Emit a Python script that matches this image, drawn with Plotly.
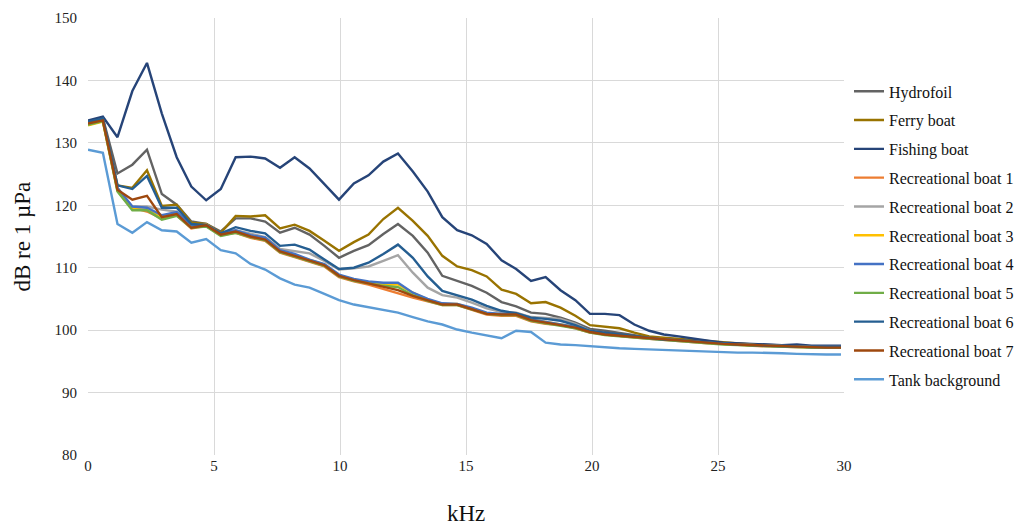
import plotly.graph_objects as go

freq_khz = [0.00, 0.59, 1.17, 1.76, 2.34, 2.93, 3.52, 4.10, 4.69, 5.27,
            5.86, 6.45, 7.03, 7.62, 8.20, 8.79, 9.38, 9.96, 10.55, 11.13,
            11.72, 12.30, 12.89, 13.48, 14.06, 14.65, 15.23, 15.82, 16.41, 16.99,
            17.58, 18.16, 18.75, 19.34, 19.92, 20.51, 21.09, 21.68, 22.27, 22.85,
            23.44, 24.02, 24.61, 25.20, 25.78, 26.37, 26.95, 27.54, 28.13, 28.71,
            29.30, 29.88]

hydrofoil = [133.3, 134.0, 125.1, 126.5, 128.9, 121.8, 120.1, 117.4, 117.0, 115.8,
             117.9, 117.9, 117.4, 115.6, 116.4, 115.3, 113.5, 111.6, 112.7, 113.6,
             115.4, 117.0, 115.1, 112.4, 108.7, 107.9, 107.1, 106.0, 104.5, 103.8,
             102.8, 102.6, 102.0, 101.2, 100.2, 99.9, 99.6, 99.2, 98.8, 98.6,
             98.5, 98.3, 98.1, 97.9, 97.8, 97.7, 97.6, 97.5, 97.4, 97.4,
             97.3, 97.3]
ferry = [133.0, 133.6, 123.2, 122.8, 125.6, 119.9, 120.1, 117.2, 117.0, 115.6,
         118.3, 118.2, 118.4, 116.3, 116.9, 115.9, 114.3, 112.7, 114.1, 115.3,
         117.8, 119.6, 117.5, 115.1, 111.9, 110.2, 109.6, 108.6, 106.5, 105.8,
         104.3, 104.5, 103.6, 102.3, 100.8, 100.5, 100.3, 99.6, 99.0, 98.8,
         98.6, 98.4, 98.2, 98.0, 97.8, 97.7, 97.6, 97.5, 97.4, 97.4,
         97.3, 97.3]
fishing = [133.6, 134.2, 130.9, 138.3, 142.8, 134.7, 127.7, 123.0, 120.8, 122.6,
           127.7, 127.8, 127.5, 126.0, 127.7, 125.9, 123.4, 120.9, 123.5, 124.8,
           127.0, 128.3, 125.4, 122.2, 118.1, 116.0, 115.2, 113.8, 111.2, 109.8,
           107.9, 108.5, 106.4, 104.8, 102.6, 102.6, 102.4, 100.9, 99.9, 99.3,
           99.0, 98.6, 98.3, 98.0, 97.9, 97.8, 97.8, 97.6, 97.7, 97.5,
           97.5, 97.5]
rec1 = [133.2, 133.7, 122.7, 119.6, 119.0, 117.9, 118.4, 116.3, 116.7, 115.2,
        115.6, 114.8, 114.3, 112.4, 111.7, 110.9, 110.2, 108.5, 107.8, 107.3,
        106.6, 105.8, 105.2, 104.6, 104.0, 104.0, 103.2, 102.5, 102.3, 102.3,
        101.4, 101.0, 100.8, 100.3, 99.6, 99.3, 99.0, 98.8, 98.6, 98.4,
        98.3, 98.1, 97.9, 97.8, 97.6, 97.5, 97.4, 97.3, 97.3, 97.2,
        97.2, 97.2]
rec2 = [133.0, 133.5, 122.5, 119.8, 119.8, 119.3, 119.0, 116.8, 116.8, 115.4,
        116.0, 115.4, 114.9, 113.0, 112.7, 112.3, 111.1, 109.7, 109.9, 110.2,
        111.1, 112.0, 109.2, 106.8, 105.6, 105.2, 104.4, 103.5, 102.9, 102.8,
        102.1, 102.0, 101.8, 101.0, 99.9, 99.5, 99.2, 98.9, 98.6, 98.5,
        98.3, 98.1, 97.9, 97.8, 97.7, 97.6, 97.5, 97.4, 97.4, 97.3,
        97.3, 97.3]
rec3 = [132.8, 133.4, 122.3, 119.4, 119.3, 118.0, 118.7, 116.6, 116.9, 115.4,
        115.9, 115.1, 114.6, 112.7, 112.0, 111.2, 110.5, 108.8, 108.1, 107.7,
        107.3, 107.3, 106.0, 104.9, 104.2, 104.2, 103.5, 102.7, 102.5, 102.6,
        101.7, 101.3, 101.0, 100.5, 99.8, 99.3, 99.1, 98.9, 98.7, 98.5,
        98.4, 98.2, 98.0, 97.8, 97.7, 97.6, 97.5, 97.4, 97.3, 97.3,
        97.2, 97.2]
rec4 = [133.3, 133.8, 122.8, 119.8, 119.6, 118.4, 118.9, 116.7, 116.9, 115.5,
        116.0, 115.2, 114.8, 112.8, 112.2, 111.3, 110.6, 108.9, 108.2, 107.8,
        107.6, 107.6, 106.0, 105.0, 104.3, 104.2, 103.6, 102.8, 102.6, 102.6,
        101.7, 101.3, 101.0, 100.5, 99.8, 99.4, 99.2, 98.9, 98.7, 98.5,
        98.4, 98.2, 98.0, 97.8, 97.7, 97.6, 97.5, 97.4, 97.3, 97.3,
        97.2, 97.2]
rec5 = [132.9, 133.5, 122.2, 119.2, 119.2, 117.7, 118.3, 116.4, 116.6, 115.1,
        115.6, 114.9, 114.4, 112.5, 111.8, 111.0, 110.3, 108.6, 107.9, 107.5,
        107.1, 106.9, 105.6, 104.7, 104.0, 104.0, 103.3, 102.6, 102.4, 102.4,
        101.5, 101.1, 100.8, 100.3, 99.6, 99.2, 99.0, 98.8, 98.6, 98.4,
        98.3, 98.1, 97.9, 97.7, 97.6, 97.5, 97.4, 97.3, 97.3, 97.2,
        97.2, 97.2]
rec6 = [133.4, 133.9, 123.2, 122.6, 124.7, 119.6, 119.6, 117.0, 116.8, 115.5,
        116.5, 115.9, 115.5, 113.5, 113.7, 112.9, 111.3, 109.8, 110.0, 110.8,
        112.2, 113.7, 111.6, 108.6, 106.3, 105.6, 104.9, 103.9, 103.1, 102.7,
        102.0, 101.8, 101.5, 100.8, 99.9, 99.6, 99.3, 99.0, 98.7, 98.5,
        98.4, 98.2, 98.0, 97.8, 97.7, 97.6, 97.5, 97.4, 97.4, 97.3,
        97.3, 97.3]
rec7 = [133.1, 133.6, 122.5, 120.9, 121.5, 118.1, 118.6, 116.4, 116.8, 115.3,
        115.8, 115.0, 114.5, 112.6, 111.9, 111.1, 110.4, 108.7, 108.0, 107.5,
        107.0, 106.4, 105.5, 104.8, 104.1, 104.1, 103.4, 102.6, 102.5, 102.5,
        101.6, 101.2, 100.9, 100.4, 99.7, 99.3, 99.1, 98.9, 98.7, 98.5,
        98.4, 98.2, 98.0, 97.8, 97.7, 97.6, 97.5, 97.4, 97.3, 97.3,
        97.2, 97.2]
tank = [128.9, 128.4, 117.0, 115.6, 117.3, 116.0, 115.8, 114.0, 114.6, 112.8,
        112.3, 110.6, 109.7, 108.3, 107.3, 106.8, 105.8, 104.8, 104.1, 103.7,
        103.2, 102.8, 102.1, 101.4, 100.9, 100.1, 99.6, 99.2, 98.7, 99.9,
        99.7, 98.0, 97.7, 97.6, 97.4, 97.2, 97.1, 97.0, 96.9, 96.8,
        96.8, 96.7, 96.6, 96.5, 96.4, 96.4, 96.4, 96.3, 96.2, 96.1,
        96.1, 96.1]

series_names = ["Hydrofoil", "Ferry boat", "Fishing boat", "Recreational boat 1",
                "Recreational boat 2", "Recreational boat 3", "Recreational boat 4",
                "Recreational boat 5", "Recreational boat 6", "Recreational boat 7",
                "Tank background"]
series_values = [hydrofoil, ferry, fishing, rec1, rec2, rec3, rec4, rec5, rec6, rec7, tank]
series_colors = ["#636363", "#997300", "#264478", "#ED7D31", "#A5A5A5", "#FFC000",
                 "#4472C4", "#70AD47", "#255E91", "#9E480E", "#5B9BD5"]

y_ticks = [80, 90, 100, 110, 120, 130, 140, 150]
x_ticks = [0, 5, 10, 15, 20, 25, 30]

FONT = "Liberation Serif, Times New Roman, serif"

fig = go.Figure()
for name, vals, col in zip(series_names, series_values, series_colors):
    fig.add_trace(go.Scatter(x=freq_khz, y=vals, mode="lines", name=name,
                             legendgroup=name,
                             line=dict(color=col, width=2.4)))

# page body has an 8px default margin, so the figure is offset by 8px
fig.update_layout(
    width=1019, height=520,
    margin=dict(l=80, r=183, t=10, b=73, autoexpand=False),
    paper_bgcolor="white", plot_bgcolor="white",
    font=dict(family=FONT, size=15, color="#222222"),
    showlegend=True,
    legend=dict(xref="container", x=841 / 1019, xanchor="left",
                yref="paper", y=0.871, yanchor="top",
                font=dict(family=FONT, size=16, color="#111111"),
                tracegroupgap=5, itemwidth=30, bgcolor="rgba(0,0,0,0)"),
    xaxis=dict(range=[0, 30], tickvals=x_ticks, showgrid=True, gridcolor="#D9D9D9",
               gridwidth=1, zeroline=False, showline=False, ticks="", automargin=False,
               tickfont=dict(family=FONT, size=15, color="#222222")),
    yaxis=dict(range=[80, 150], tickvals=y_ticks, showgrid=True, gridcolor="#D9D9D9",
               gridwidth=1, zeroline=False, showline=False, ticks="", automargin=False,
               ticklabelstandoff=10,
               tickfont=dict(family=FONT, size=15, color="#222222")),
    annotations=[
        dict(text="dB re 1 µPa", xref="paper", yref="paper",
             x=(22 - 88) / 756, y=0.5, textangle=-90, showarrow=False,
             xanchor="center", yanchor="middle",
             font=dict(family=FONT, size=23, color="#111111")),
        dict(text="kHz", xref="paper", yref="paper",
             x=(466 - 88) / 756, y=(455 - 513) / 437, showarrow=False,
             xanchor="center", yanchor="middle",
             font=dict(family=FONT, size=23, color="#111111")),
    ],
)

fig.write_html("out.html")
